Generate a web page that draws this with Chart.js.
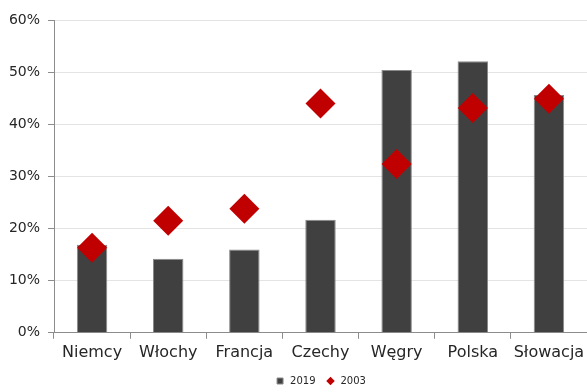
<!DOCTYPE html>
<html>
<head>
<meta charset="utf-8">
<script src="https://cdn.jsdelivr.net/npm/chart.js@4/dist/chart.umd.min.js"></script>
<style>
  html, body { margin: 0; padding: 0; background: #fff; overflow: hidden; }
  #wrap { width: 587px; height: 392px; }
  canvas { display: block; }
</style>
</head>
<body>
<div id="wrap"><canvas id="c" width="587" height="392"></canvas></div>
<script>
// Udział (%) w dwóch latach dla wybranych krajów
const categories = ['Niemcy', 'Włochy', 'Francja', 'Czechy', 'Węgry', 'Polska', 'Słowacja'];
const values2019 = [16.9, 14.2, 16.0, 21.7, 50.4, 52.1, 45.6];
const values2003 = [16.3, 21.5, 23.8, 44.0, 32.4, 43.1, 44.9];
const yTicks = [0, 10, 20, 30, 40, 50, 60];

const FONT = 'DejaVu Sans';
const TEXT = '#262626';
const AXIS = '#8c8c8c';
const LEGEND_HEIGHT = 26;

const chart = new Chart(document.getElementById('c'), {
  data: {
    labels: categories,
    datasets: [
      {
        type: 'bar',
        label: '2019',
        data: values2019,
        backgroundColor: '#404040',
        borderColor: '#8a8a8a',
        borderWidth: 1,
        barPercentage: 0.4,
        categoryPercentage: 1,
        pointStyle: 'rect',
        order: 1
      },
      {
        type: 'line',
        label: '2003',
        data: values2003,
        showLine: false,
        pointStyle: 'rectRot',
        pointRadius: 15,
        pointHoverRadius: 15,
        pointBackgroundColor: '#c00000',
        pointBorderColor: '#c00000',
        pointBorderWidth: 0,
        backgroundColor: '#c00000',
        borderColor: '#c00000',
        order: 0
      }
    ]
  },
  options: {
    responsive: false,
    animation: false,
    layout: { autoPadding: false, padding: { left: 0, right: 0, top: 20, bottom: 0 } },
    plugins: {
      tooltip: { enabled: false },
      legend: {
        position: 'bottom',
        fullSize: false,
        labels: {
          usePointStyle: true,
          boxHeight: 6,
          padding: 10,
          color: TEXT,
          font: { family: FONT, size: 10 },
          sort: (a, b) => a.datasetIndex - b.datasetIndex
        }
      }
    },
    scales: {
      x: {
        offset: true,
        afterFit: (axis) => { axis.paddingLeft = 0; axis.paddingRight = 0; },
        grid: {
          offset: true,
          drawOnChartArea: false,
          drawTicks: true,
          tickLength: 6,
          color: AXIS
        },
        border: { color: AXIS, width: 1 },
        ticks: {
          color: TEXT,
          font: { family: FONT, size: 16 },
          padding: 4,
          maxRotation: 0,
          minRotation: 0,
          autoSkip: false
        }
      },
      y: {
        min: 0,
        max: 60,
        afterBuildTicks: (axis) => { axis.ticks = yTicks.map(v => ({ value: v })); },
        afterFit: (axis) => { axis.width = 54; },
        grid: {
          color: '#e4e4e4',
          tickColor: AXIS,
          tickLength: 6,
          drawTicks: true
        },
        border: { color: AXIS, width: 1 },
        ticks: {
          color: TEXT,
          font: { family: FONT, size: 14 },
          padding: 8,
          callback: (v) => v + '%'
        }
      }
    }
  }
});

// Keep the spacing between legend items while holding the legend box to a fixed height
const baseLegendFit = chart.legend.fit;
chart.legend.fit = function () {
  baseLegendFit.call(this);
  this.height = LEGEND_HEIGHT;
};
chart.update();
</script>
</body>
</html>
